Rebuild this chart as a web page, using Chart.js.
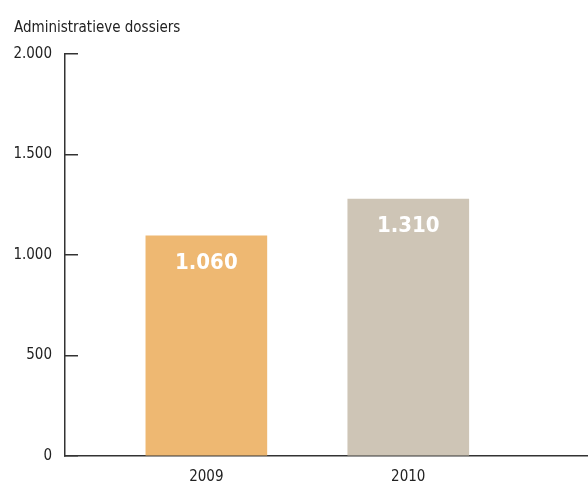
<!DOCTYPE html>
<html>
<head>
<meta charset="utf-8">
<script src="https://cdn.jsdelivr.net/npm/chart.js@4/dist/chart.umd.min.js"></script>
<style>
  body { margin: 0; background: #fff; }
  canvas { display: block; }
</style>
</head>
<body>
<canvas id="myChart" width="588" height="485"></canvas>
<script>
'use strict';

// *********** DATA ***********
let years = [2009, 2010];
let dossiers = [1095, 1278]; // bar heights as drawn
let valueLabels = ['1.060', '1.310']; // printed on the bars
let yTicks = [0, 500, 1000, 1500, 2000];
let barColors = ['#eeb872', '#cec5b6'];

let fontFamily = '"DejaVu Sans Condensed", "Liberation Sans Narrow", sans-serif';
let axisColor = '#333';

// dutch thousands separator
function formatNl(v) {
  return String(v).replace(/\B(?=(\d{3})+(?!\d))/g, '.');
}

// ********* LABELS ON THE BARS *********
let barLabels = {
  id: 'barLabels',
  afterDatasetsDraw(chart) {
    let ctx = chart.ctx;
    let meta = chart.getDatasetMeta(0);
    ctx.save();
    ctx.fillStyle = '#fff';
    ctx.font = 'bold 22px ' + fontFamily;
    ctx.textAlign = 'center';
    ctx.textBaseline = 'middle';
    meta.data.forEach((bar, i) => {
      ctx.fillText(valueLabels[i], bar.x, bar.y + 27);
    });
    ctx.restore();
  }
};

let ctx = document.getElementById('myChart').getContext('2d');

let myChart = new Chart(ctx, {
  type: 'bar',
  data: {
    datasets: [{
      data: years.map((y, i) => ({ x: y, y: dossiers[i] })),
      backgroundColor: barColors,
      borderWidth: 0,
      barThickness: 121
    }]
  },
  options: {
    responsive: false,
    animation: false,
    layout: { padding: { left: 14, right: 0, top: 0, bottom: 0 } },
    plugins: {
      legend: { display: false },
      tooltip: { enabled: false },
      title: {
        display: true,
        text: 'Administratieve dossiers',
        align: 'start',
        color: '#222',
        font: { family: fontFamily, size: 15, weight: 'normal', lineHeight: 1.2 },
        padding: { top: 19, bottom: 17 }
      }
    },
    scales: {
      x: {
        type: 'linear',
        offset: false,
        min: 2008.3,
        max: 2010.89,
        afterBuildTicks: axis => { axis.ticks = years.map(v => ({ value: v })); },
        afterFit: axis => { axis.height = 29; },
        grid: { display: false, drawTicks: false },
        border: { display: true, color: axisColor, width: 1.5 },
        ticks: {
          color: '#222',
          padding: 14,
          maxRotation: 0,
          font: { family: fontFamily, size: 15, lineHeight: 1 },
          callback: v => String(v)
        }
      },
      y: {
        min: 0,
        max: 2000,
        afterBuildTicks: axis => { axis.ticks = yTicks.map(v => ({ value: v })); },
        afterFit: axis => {
          axis.width = 51;
          // labels sit beside the axis, they need no extra room below it
          axis.paddingTop = 9;
          axis.paddingBottom = 9;
        },
        grid: {
          drawOnChartArea: false,
          drawTicks: true,
          tickLength: -13,
          color: axisColor,
          lineWidth: 1.5
        },
        border: { display: true, color: axisColor, width: 1.5 },
        ticks: {
          color: '#222',
          padding: 26,
          font: { family: fontFamily, size: 15 },
          callback: v => formatNl(v)
        }
      }
    }
  },
  plugins: [barLabels]
});
</script>
</body>
</html>
